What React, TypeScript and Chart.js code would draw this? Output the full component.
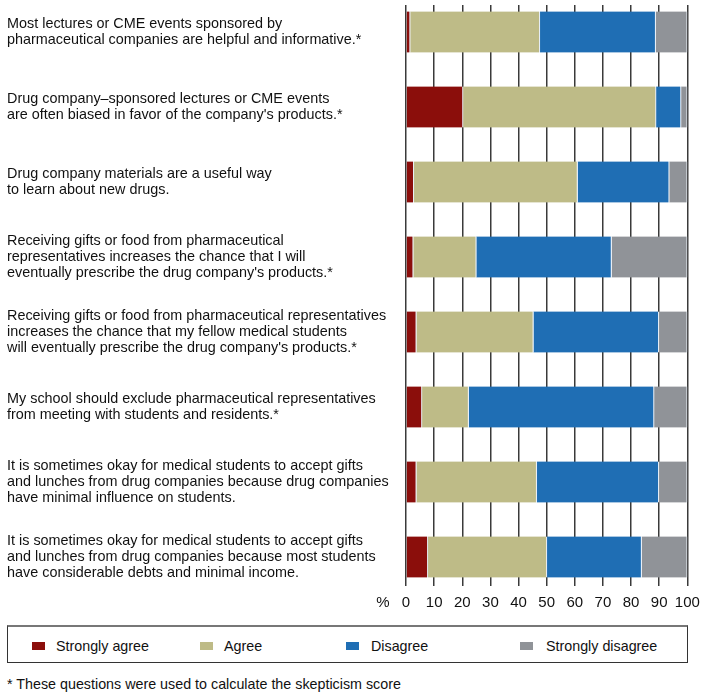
import React, { useEffect, useRef } from "react";
import { Chart, registerables } from "chart.js";

Chart.register(...registerables);

const questions: string[][] = [
  ["Most lectures or CME events sponsored by", "pharmaceutical companies are helpful and informative.*"],
  ["Drug company\u2013sponsored lectures or CME events", "are often biased in favor of the company's products.*"],
  ["Drug company materials are a useful way", "to learn about new drugs."],
  ["Receiving gifts or food from pharmaceutical", "representatives increases the chance that I will", "eventually prescribe the drug company's products.*"],
  ["Receiving gifts or food from pharmaceutical representatives", "increases the chance that my fellow medical students", "will eventually prescribe the drug company's products.*"],
  ["My school should exclude pharmaceutical representatives", "from meeting with students and residents.*"],
  ["It is sometimes okay for medical students to accept gifts", "and lunches from drug companies because drug companies", "have minimal influence on students."],
  ["It is sometimes okay for medical students to accept gifts", "and lunches from drug companies because most students", "have considerable debts and minimal income."],
];

const stronglyAgree = [1.5, 20.3, 2.8, 2.6, 3.7, 5.7, 3.7, 7.8];
const agree = [46.1, 68.6, 58.2, 22.4, 41.6, 16.6, 42.8, 42.3];
const disagree = [41.2, 8.9, 32.6, 48.1, 44.6, 65.9, 43.4, 33.7];
const stronglyDisagree = [11.2, 2.2, 6.4, 26.9, 10.1, 11.8, 10.1, 16.2];

const seriesNames = ["Strongly agree", "Agree", "Disagree", "Strongly disagree"];
const seriesColors = ["#8b0e0b", "#bebb87", "#1f6eb4", "#909398"];
const xTicks = [0, 10, 20, 30, 40, 50, 60, 70, 80, 90, 100];

const FONT = "'Liberation Sans', Arial, sans-serif";
const NARROW = "'Liberation Sans Narrow', 'Liberation Sans', Arial, sans-serif";

const percentPlugin = {
  id: "percentLabel",
  afterDraw(chart: any) {
    const xs = chart.scales.x;
    const ctx = chart.ctx;
    ctx.save();
    ctx.font = `15px ${NARROW}`;
    ctx.fillStyle = "#111";
    ctx.textAlign = "center";
    ctx.textBaseline = "middle";
    ctx.fillText("%", xs.getPixelForValue(0) - 23, chart.chartArea.bottom + 16.5);
    ctx.restore();
  },
};

export default function App() {
  const ref = useRef<HTMLCanvasElement | null>(null);

  useEffect(() => {
    if (!ref.current) return;
    const all = [stronglyAgree, agree, disagree, stronglyDisagree];
    const chart = new Chart(ref.current, {
      type: "bar",
      data: {
        datasets: all.map((vals, si) => ({
          label: seriesNames[si],
          data: vals.map((v, i) => ({ x: v, y: i })),
          backgroundColor: seriesColors[si],
          borderColor: "#e8eff7",
          borderWidth: { right: 1.2, top: 0, bottom: 0, left: 0 },
          borderSkipped: false,
          barThickness: 41,
        })),
      },
      options: {
        indexAxis: "y",
        animation: false,
        responsive: true,
        maintainAspectRatio: false,
        layout: { padding: { left: 7, right: 14.7, top: 5, bottom: 0 } },
        plugins: {
          legend: { display: false },
          tooltip: { enabled: false },
        },
        scales: {
          x: {
            type: "linear",
            stacked: true,
            min: 0,
            max: 100,
            offset: false,
            afterBuildTicks: (scale: any) => {
              scale.ticks = xTicks.map((v) => ({ value: v }));
            },
            afterFit: (scale: any) => {
              scale.height = 25;
              scale.paddingLeft = 0;
              scale.paddingRight = 0;
            },
            grid: { color: "#3a3a3a", lineWidth: 1.5, drawTicks: false, offset: false },
            border: { display: false },
            ticks: {
              padding: 8,
              color: "#111",
              font: { family: NARROW, size: 15, lineHeight: 1.2 },
              maxRotation: 0,
              autoSkip: false,
            },
          },
          y: {
            type: "linear",
            stacked: true,
            reverse: true,
            offset: false,
            min: -0.36,
            max: 7.387,
            afterBuildTicks: (scale: any) => {
              scale.ticks = questions.map((_, i) => ({ value: i }));
            },
            afterFit: (scale: any) => {
              scale.width = 399;
              scale.paddingTop = 0;
              scale.paddingBottom = 0;
            },
            grid: { display: false, offset: false },
            border: { display: false },
            ticks: {
              crossAlign: "far",
              color: "#111",
              font: { family: FONT, size: 14.4, lineHeight: 1.1 },
              autoSkip: false,
              callback: (v: any) => questions[Math.round(Number(v))] ?? "",
            },
          },
        },
      } as any,
      plugins: [percentPlugin],
    });
    return () => chart.destroy();
  }, []);

  const legendSquares = [32, 200, 346, 520];
  const legendTexts = [56, 224, 371, 546];

  return (
    <div style={{ position: "absolute", left: 0, top: 0, width: 702, height: 695, background: "#fff", fontFamily: FONT }}>
      <div style={{ position: "absolute", left: 0, top: 0, width: 702, height: 611 }}>
        <canvas ref={ref} />
      </div>
      <div
        style={{
          position: "absolute",
          left: 7,
          top: 625,
          width: 681,
          height: 38,
          boxSizing: "border-box",
          border: "1px solid #333",
          borderTop: "2px solid #777",
        }}
      >
        {seriesNames.map((name, i) => (
          <React.Fragment key={name}>
            <div
              style={{
                position: "absolute",
                left: legendSquares[i] - 8,
                top: 15,
                width: 13,
                height: 8,
                background: seriesColors[i],
              }}
            />
            <div
              style={{
                position: "absolute",
                left: legendTexts[i] - 8,
                top: 9,
                fontSize: 14.3,
                lineHeight: "20px",
                color: "#111",
                whiteSpace: "nowrap",
              }}
            >
              {name}
            </div>
          </React.Fragment>
        ))}
      </div>
      <div
        style={{
          position: "absolute",
          left: 7,
          top: 674,
          fontSize: 14.3,
          lineHeight: "20px",
          color: "#111",
          whiteSpace: "nowrap",
        }}
      >
        * These questions were used to calculate the skepticism score
      </div>
    </div>
  );
}
